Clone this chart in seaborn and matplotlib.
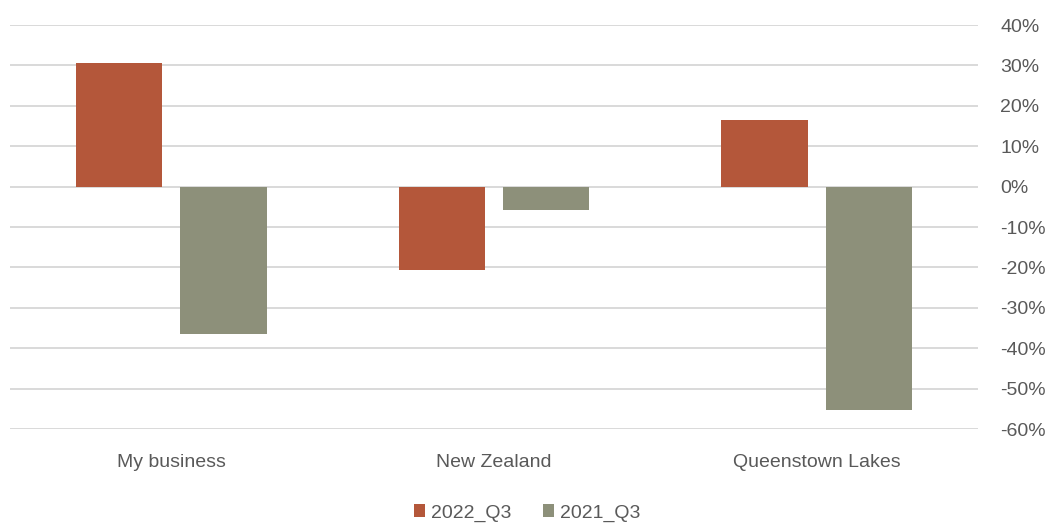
import matplotlib
matplotlib.use("Agg")
import matplotlib.pyplot as plt
from matplotlib.ticker import FuncFormatter
import seaborn as sns
import pandas as pd

regions = ["My business", "New Zealand", "Queenstown Lakes"]
change_2022_q3 = [30.5, -20.6, 16.5]
change_2021_q3 = [-36.5, -5.7, -55.4]
series_names = ["2022_Q3", "2021_Q3"]
y_ticks = [40, 30, 20, 10, 0, -10, -20, -30, -40, -50, -60]

df = pd.DataFrame({
    "region": regions * 2,
    "value": change_2022_q3 + change_2021_q3,
    "series": [series_names[0]] * 3 + [series_names[1]] * 3,
})

sns.set_theme(style="white")
plt.rcParams["font.family"] = ["Liberation Sans", "DejaVu Sans"]
text_color = "#595959"
palette = {"2022_Q3": "#B4573A", "2021_Q3": "#8D907A"}

fig = plt.figure(figsize=(10.53, 5.25), dpi=100)
ax = fig.add_axes([10 / 1053, 1 - 429 / 525, 968 / 1053, 404 / 525])

sns.barplot(data=df, x="region", y="value", hue="series", order=regions,
            hue_order=series_names, palette=palette, width=0.646, gap=0.173,
            saturation=1, ax=ax, legend=True, linewidth=0)

ax.set_ylim(-60, 40)
ax.set_xlim(-0.5, 2.5)
ax.set_yticks(y_ticks)
ax.yaxis.set_major_formatter(FuncFormatter(lambda v, _: f"{v:.0f}%"))
ax.yaxis.tick_right()
ax.grid(axis="y", color="#d9d9d9", linewidth=1.4)
ax.set_axisbelow(True)
for s in ax.spines.values():
    s.set_visible(False)
ax.tick_params(axis="y", length=0, pad=16, labelsize=14, labelcolor=text_color)
ax.tick_params(axis="x", length=0, pad=18, labelsize=14, labelcolor=text_color)
ax.set_xlabel("")
ax.set_ylabel("")

handles, labels = ax.get_legend_handles_labels()
ax.get_legend().remove()
fig.legend(handles, labels, loc="center", bbox_to_anchor=(527 / 1053, 1 - 513 / 525),
           ncol=2, frameon=False, fontsize=14, labelcolor=text_color,
           handlelength=0.6, handleheight=0.6, handletextpad=0.3, columnspacing=1.6)

fig.savefig("out.png", dpi=100)
